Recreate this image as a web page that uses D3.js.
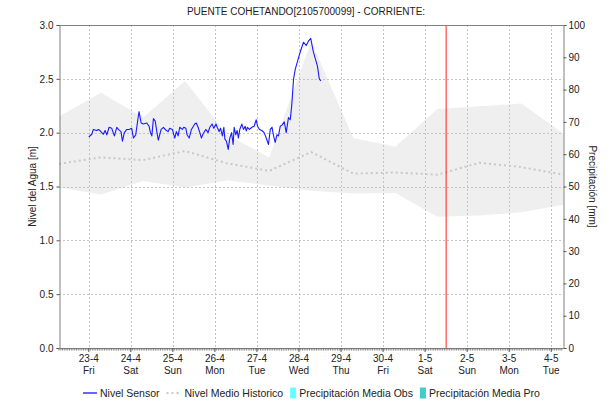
<!DOCTYPE html>
<html>
<head>
<meta charset="utf-8">
<script src="https://cdn.jsdelivr.net/npm/d3@7"></script>
<style>
  html, body { margin: 0; padding: 0; background: #fff; }
  svg { display: block; font-family: "Liberation Sans", Arial, sans-serif; }
</style>
</head>
<body>
<svg id="chart" width="613" height="405"></svg>
<script>
// ---- data ----
const title = "PUENTE COHETANDO[2105700099] - CORRIENTE:";

// historic statistics, one value per day at 07:00
const histDays = ["2021-04-22", "2021-04-23", "2021-04-24", "2021-04-25", "2021-04-26", "2021-04-27",
  "2021-04-28", "2021-04-29", "2021-04-30", "2021-05-01", "2021-05-02", "2021-05-03", "2021-05-04"];
const histMax = [2.15, 2.37, 2.14, 2.48, 1.98, 1.77, 2.85, 1.95, 1.87, 2.22, 2.245, 2.27, 1.99];
const histMin = [1.49, 1.425, 1.55, 1.49, 1.556, 1.51, 1.46, 1.435, 1.44, 1.22, 1.23, 1.26, 1.33];
const histMedian = [1.71, 1.77, 1.745, 1.83, 1.715, 1.645, 1.82, 1.62, 1.63, 1.61, 1.72, 1.68, 1.61];

// sensor readings: hours after 23-4 00:00 and level in metres
const sensorStart = "2021-04-23T00:00";
const sensorHours = [0, 1.7, 2.6, 4.5, 5.5, 6.4, 8.3, 9.3, 10.3, 11.6, 13.1, 14.6, 16, 16.9, 18.4, 19.2, 20.3, 21.7, 23,
  24.5, 25.5, 26.8, 28, 28.7, 29.9, 31.2, 33.1, 34.4, 35.2, 36, 36.9, 37.9, 38.8, 39.7, 41.3, 42.6, 43.6, 45.3, 46.2,
  47.7, 49.1, 50, 51, 51.9, 53.4, 54.2, 55.4, 56.1, 57.3, 58.6, 60.5, 61.4, 62.4, 63.4, 64.3, 65.3, 66.8, 68.1, 69.1,
  70.4, 71.4, 72.6, 73.3, 74.4, 75.2, 76.3, 77.1, 77.7, 78.6, 79.6, 80.5, 81.5, 82.4, 83, 83.9, 84.7, 85.4, 86.2, 87.4,
  88.3, 89.3, 89.9, 90.6, 91.7, 93.1, 94.4, 95.6, 96.3, 97.5, 98.8, 100.1, 101.3, 102.6, 103.6, 104.6, 105.5, 106.4,
  107.4, 108.3, 109.3, 110.3, 111.6, 112.7, 114, 115, 115.9, 116.9, 117.9, 119.8, 121.1, 122.6, 124.1, 125.4, 126.7,
  128.2, 130.5, 131.6, 132.5];
const sensorLevels = [1.96, 1.985, 2.03, 2.02, 2.03, 2.02, 1.985, 2.02, 1.98, 2.05, 2.04, 1.97, 2.05, 2.03, 2.01, 1.92,
  2.0, 2.03, 2.03, 2.04, 1.95, 1.98, 2.12, 2.195, 2.09, 2.08, 2.09, 2.06, 2.0, 1.97, 2.13, 2.11, 2.015, 1.93, 2.03,
  2.05, 2.03, 2.01, 2.04, 2.03, 1.95, 2.01, 1.97, 2.05, 2.03, 2.05, 2.04, 1.98, 1.95, 2.03, 2.08, 2.09, 2.05, 2.0,
  1.95, 1.99, 2.03, 2.0, 2.05, 2.08, 2.04, 2.08, 2.05, 2.01, 2.04, 1.97, 2.05, 1.94, 1.92, 1.845, 1.95, 2.0, 1.89,
  2.05, 1.98, 2.02, 1.95, 2.03, 2.08, 2.03, 2.06, 2.015, 2.05, 2.03, 2.05, 2.06, 2.12, 2.06, 2.03, 2.02, 2.0, 1.95,
  1.89, 2.03, 2.05, 1.97, 1.91, 1.98, 1.97, 2.06, 2.07, 2.10, 2.0, 2.14, 2.12, 2.26, 2.50, 2.59, 2.70, 2.77, 2.84,
  2.81, 2.85, 2.876, 2.75, 2.62, 2.50, 2.48];

// current time marker
const nowTime = "2021-05-01T12:00";

// axes
const xStart = "2021-04-22T07:00";
const xEnd = "2021-05-04T07:00";
const levelTicks = [0, 0.5, 1.0, 1.5, 2.0, 2.5, 3.0];
const precipTicks = [0, 10, 20, 30, 40, 50, 60, 70, 80, 90, 100];
const dayTickDates = ["2021-04-23", "2021-04-24", "2021-04-25", "2021-04-26", "2021-04-27", "2021-04-28",
  "2021-04-29", "2021-04-30", "2021-05-01", "2021-05-02", "2021-05-03", "2021-05-04"];
const dayLabels = ["23-4", "24-4", "25-4", "26-4", "27-4", "28-4", "29-4", "30-4", "1-5", "2-5", "3-5", "4-5"];
const weekdayLabels = ["Fri", "Sat", "Sun", "Mon", "Tue", "Wed", "Thu", "Fri", "Sat", "Sun", "Mon", "Tue"];

const legendItems = [
  { label: "Nivel Sensor", kind: "line", color: "#0000ff" },
  { label: "Nivel Medio Historico", kind: "dots", color: "#c8c8c8" },
  { label: "Precipitación Media Obs", kind: "box", color: "#66ffff" },
  { label: "Precipitación Media Pro", kind: "box", color: "#44cccc" }
];

// ---- layout ----
const plot = { left: 59, right: 563.5, top: 25, bottom: 348 };
const parse = s => new Date(s.length === 10 ? s + "T07:00" : s);
const parseDay = s => new Date(s + "T00:00");

const x = d3.scaleTime().domain([parse(xStart), parse(xEnd)]).range([plot.left, plot.right]);
const yL = d3.scaleLinear().domain([0, 3]).range([plot.bottom, plot.top]);
const yR = d3.scaleLinear().domain([0, 100]).range([plot.bottom, plot.top]);

const svg = d3.select("#chart");
const axisColor = "#808080";
const gridColor = "#c4c4c4";
const textColor = "#222";

// title
svg.append("text").attr("x", 306).attr("y", 15).attr("text-anchor", "middle")
  .attr("font-size", 10).attr("fill", textColor).text(title);

const histData = histDays.map((d, i) => ({ t: parse(d), max: histMax[i], min: histMin[i], med: histMedian[i] }));

// historic min–max band
svg.append("path").datum(histData)
  .attr("fill", "#efefef")
  .attr("d", d3.area().x(d => x(d.t)).y0(d => yL(d.min)).y1(d => yL(d.max)));

// grid
const dayTicks = dayTickDates.map(parseDay);
svg.append("g").selectAll("line").data(dayTicks).join("line")
  .attr("x1", d => Math.round(x(d)) + 0.5).attr("x2", d => Math.round(x(d)) + 0.5)
  .attr("y1", plot.top).attr("y2", plot.bottom)
  .attr("stroke", gridColor).attr("stroke-dasharray", "2,2");
svg.append("g").selectAll("line").data(levelTicks.filter(v => v > 0 && v < 3)).join("line")
  .attr("x1", plot.left).attr("x2", plot.right)
  .attr("y1", d => Math.round(yL(d)) + 0.5).attr("y2", d => Math.round(yL(d)) + 0.5)
  .attr("stroke", gridColor).attr("stroke-dasharray", "2,2");

// historic median (dotted)
svg.append("path").datum(histData)
  .attr("fill", "none").attr("stroke", "#c8c8c8").attr("stroke-width", 2)
  .attr("stroke-dasharray", "2,3")
  .attr("d", d3.line().x(d => x(d.t)).y(d => yL(d.med)));

// sensor series
const t0 = new Date(sensorStart);
const sensorData = sensorHours.map((h, i) => ({ t: new Date(t0.getTime() + h * 3600000), v: sensorLevels[i] }));
svg.append("path").datum(sensorData)
  .attr("fill", "none").attr("stroke", "#1a1aff").attr("stroke-width", 1.1)
  .attr("stroke-linejoin", "round")
  .attr("d", d3.line().x(d => x(d.t)).y(d => yL(d.v)));

// current time marker
const xn = x(new Date(nowTime));
svg.append("line").attr("x1", xn).attr("x2", xn).attr("y1", plot.top).attr("y2", plot.bottom)
  .attr("stroke", "#ff2020").attr("stroke-width", 1);

// frame
svg.append("line").attr("x1", plot.left).attr("x2", plot.right).attr("y1", plot.top + 0.5).attr("y2", plot.top + 0.5)
  .attr("stroke", axisColor);

// left axis
const gL = svg.append("g").attr("transform", `translate(${plot.left + 0.5},0)`)
  .call(d3.axisLeft(yL).tickValues(levelTicks).tickFormat(d3.format(".1f")).tickSize(3).tickPadding(3));
gL.select(".domain").attr("stroke", axisColor);
gL.selectAll(".tick line").attr("stroke", "#555");
gL.selectAll("text").attr("font-size", 10).attr("fill", textColor).attr("font-family", null);

// right axis
const gR = svg.append("g").attr("transform", `translate(${plot.right},0)`)
  .call(d3.axisRight(yR).tickValues(precipTicks).tickSize(3).tickPadding(2));
gR.select(".domain").attr("stroke", axisColor);
gR.selectAll(".tick line").attr("stroke", "#555");
gR.selectAll("text").attr("font-size", 10).attr("fill", textColor).attr("font-family", null);

// bottom axis with hourly minor ticks
svg.append("line").attr("x1", plot.left).attr("x2", plot.right)
  .attr("y1", plot.bottom + 0.5).attr("y2", plot.bottom + 0.5).attr("stroke", axisColor);
const hours = d3.timeHour.range(x.domain()[0], x.domain()[1]);
svg.append("g").selectAll("line").data(hours).join("line")
  .attr("x1", d => x(d)).attr("x2", d => x(d))
  .attr("y1", plot.bottom + 0.5).attr("y2", plot.bottom + 2.5)
  .attr("stroke", "#666").attr("stroke-width", 0.8);

const gx = svg.append("g");
dayTicks.forEach((d, i) => {
  const cx = x(d);
  gx.append("line").attr("x1", cx).attr("x2", cx).attr("y1", plot.bottom).attr("y2", plot.bottom + 4)
    .attr("stroke", "#555");
  gx.append("text").attr("x", cx).attr("y", 362).attr("text-anchor", "middle")
    .attr("font-size", 10).attr("fill", textColor).text(dayLabels[i]);
  gx.append("text").attr("x", cx).attr("y", 374).attr("text-anchor", "middle")
    .attr("font-size", 10).attr("fill", textColor).text(weekdayLabels[i]);
});

// axis titles
svg.append("text").attr("transform", `translate(36,${(plot.top + plot.bottom) / 2}) rotate(-90)`)
  .attr("text-anchor", "middle").attr("font-size", 10).attr("fill", textColor).text("Nivel del Agua [m]");
svg.append("text").attr("transform", `translate(589,${(plot.top + plot.bottom) / 2}) rotate(90)`)
  .attr("text-anchor", "middle").attr("font-size", 10).attr("fill", textColor).text("Precipitación [mm]");

// legend
const lg = svg.append("g");
let lx = 83;
const ly = 393;
legendItems.forEach(item => {
  if (item.kind === "line") {
    lg.append("line").attr("x1", lx).attr("x2", lx + 14).attr("y1", ly).attr("y2", ly)
      .attr("stroke", item.color).attr("stroke-width", 1.2);
    lx += 17;
  } else if (item.kind === "dots") {
    lg.append("line").attr("x1", lx).attr("x2", lx + 14).attr("y1", ly).attr("y2", ly)
      .attr("stroke", item.color).attr("stroke-width", 2).attr("stroke-dasharray", "2,3");
    lx += 18;
  } else {
    lg.append("rect").attr("x", lx).attr("y", ly - 5.5).attr("width", 6).attr("height", 11)
      .attr("fill", item.color);
    lx += 9;
  }
  const t = lg.append("text").attr("x", lx).attr("y", ly + 3.5).attr("font-size", 10.5)
    .attr("fill", textColor).text(item.label);
  lx += t.node().getComputedTextLength() + 7;
});
</script>
</body>
</html>
